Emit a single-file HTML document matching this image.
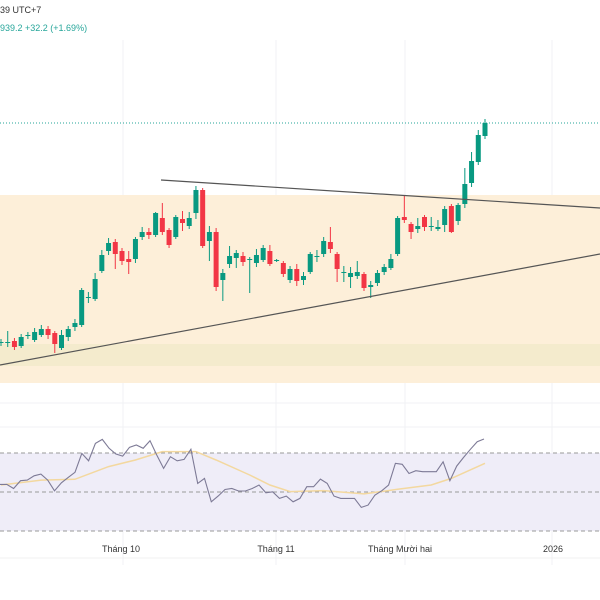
<!DOCTYPE html>
<html><head><meta charset="utf-8"><style>
body{margin:0;background:#fff;font-family:"Liberation Sans","Noto Sans CJK SC",sans-serif}
svg{display:block}
</style></head><body>
<svg id="c" width="600" height="600">
<g stroke="#f1f2f4" stroke-width="1">
<line x1="123" y1="40" x2="123" y2="565"/><line x1="276" y1="40" x2="276" y2="565"/><line x1="405" y1="40" x2="405" y2="565"/><line x1="552" y1="40" x2="552" y2="565"/>
<line x1="0" y1="403" x2="600" y2="403"/><line x1="0" y1="427" x2="600" y2="427"/>
</g>
<rect x="0" y="195" width="600" height="188" fill="#fdefd9"/>
<rect x="0" y="344" width="600" height="22" fill="#f4ebcd"/>
<line x1="0" y1="123" x2="600" y2="123" stroke="#26a69a" stroke-dasharray="1,2"/>
<g id="candles"></g>
<line x1="161" y1="180" x2="600" y2="208" stroke="#555" stroke-width="1.2"/>
<line x1="0" y1="365" x2="600" y2="254" stroke="#555" stroke-width="1.2"/>
<rect x="0" y="453" width="600" height="78" fill="#efedf8"/>
<g stroke="#9a9a9a" stroke-dasharray="4,3">
<line x1="0" y1="453" x2="600" y2="453"/><line x1="0" y1="492" x2="600" y2="492"/><line x1="0" y1="531" x2="600" y2="531"/></g>
<path id="ma" fill="none" stroke="#f3d89f" stroke-width="1.5"/>
<path id="rsi" fill="none" stroke="#7d7a96" stroke-width="1.1"/>
<line x1="0" y1="558" x2="600" y2="558" stroke="#f0f0f0"/>
<g font-size="9" fill="#333" text-anchor="middle">
<text x="121" y="552">Tháng 10</text>
<text x="276" y="552">Tháng 11</text>
<text x="400" y="552">Tháng Mười hai</text>
<text x="553" y="552">2026</text>
</g>
<text x="0" y="13" font-size="9" fill="#333">39 UTC+7</text>
<text x="0" y="31" font-size="9" fill="#26a69a">939.2  +32.2 (+1.69%)</text>
</svg>
<script>
const opens=[1718,1718,1720,1715,1725,1721,1726,1732,1728,1713,1724,1734,1736,1763,1762,1790,1810,1819,1810,1802,1802,1824,1829,1826,1843,1831,1824,1842,1835,1848,1871,1820,1829,1781,1797,1803,1805,1801,1798,1801,1810,1800,1798,1781,1792,1781,1789,1804,1807,1819,1807,1788,1784,1785,1787,1774,1778,1789,1793,1807,1844,1837,1832,1844,1834,1832,1836,1855,1840,1857,1878,1899,1925];
const closes=[1719,1719,1714,1724,1726,1729,1732,1726,1717,1726,1732,1738,1771,1764,1782,1806,1818,1807,1800,1799,1822,1829,1826,1848,1829,1816,1844,1838,1843,1871,1815,1829,1774,1788,1805,1808,1799,1802,1806,1813,1797,1801,1787,1792,1780,1785,1807,1805,1820,1812,1792,1789,1788,1789,1773,1776,1788,1794,1802,1843,1841,1829,1835,1834,1835,1834,1852,1829,1856,1877,1900,1926,1938];
const highs=[1722,1730,1723,1727,1729,1733,1736,1735,1730,1731,1735,1742,1773,1769,1788,1811,1823,1822,1813,1810,1824,1834,1833,1849,1858,1833,1846,1850,1849,1875,1873,1835,1833,1792,1815,1811,1809,1804,1812,1816,1816,1802,1800,1795,1797,1789,1809,1811,1824,1834,1809,1795,1794,1800,1789,1780,1791,1797,1807,1845,1865,1839,1843,1846,1844,1841,1855,1857,1858,1893,1909,1931,1942];
const lows=[1715,1714,1711,1713,1722,1719,1724,1722,1708,1711,1720,1730,1734,1758,1760,1788,1806,1792,1796,1787,1798,1821,1822,1824,1826,1813,1822,1830,1832,1842,1813,1800,1770,1760,1793,1793,1795,1768,1794,1799,1795,1799,1784,1778,1775,1776,1787,1799,1804,1808,1779,1779,1773,1782,1770,1763,1775,1786,1791,1805,1838,1822,1828,1830,1830,1830,1829,1828,1836,1853,1874,1896,1922];
const rsiValues=[53.9,53.9,51.8,55.8,56.1,58.3,59.2,56.1,50.6,54.7,57.5,60.1,69.8,66.0,74.9,77.0,72.4,69.5,68.4,72.9,74.1,72.4,76.3,68.9,62.1,68.1,66.0,66.7,71.9,54.4,57.0,45.0,47.9,51.3,51.8,50.5,50.5,51.8,53.6,49.6,50.1,46.7,47.9,45.0,46.7,52.7,52.7,56.6,54.4,47.9,46.7,46.7,46.7,42.1,43.3,48.4,50.6,53.6,64.7,64.2,59.5,60.9,60.4,60.4,60.4,65.5,55.8,63.3,67.7,71.9,75.8,77.2];
const maIndex=[0,6,11,16,20,24,29,32,37,40,43,48,54,59,64,67,72];
const maValues=[53.6,56.1,56.5,63.0,66.4,70.7,70.7,66.4,58.7,53.6,50.2,50.7,49.0,51.4,53.6,57.0,64.7];
const N=opens.length;
const xOf=i=>1+484*i/(N-1);
const yOf=p=>2061-p;
const rsiY=v=>453+(70-v)*78/40;
const g=document.getElementById('candles');
const ns='http://www.w3.org/2000/svg';
for(let i=0;i<N;i++){
 const up=closes[i]>=opens[i],col=up?'#089981':'#f23645',x=xOf(i);
 const w=document.createElementNS(ns,'line');
 w.setAttribute('x1',x);w.setAttribute('x2',x);w.setAttribute('y1',yOf(highs[i]));w.setAttribute('y2',yOf(lows[i]));w.setAttribute('stroke',col);
 
 
 g.appendChild(w);
 const r=document.createElementNS(ns,'rect');
 const t=yOf(Math.max(opens[i],closes[i])),b=yOf(Math.min(opens[i],closes[i]));
 r.setAttribute('x',x-2.5);r.setAttribute('width',5);r.setAttribute('y',t);r.setAttribute('height',Math.max(1,b-t));r.setAttribute('fill',col);
 
 
 g.appendChild(r);
}
const rn=rsiValues.length;
document.getElementById('rsi').setAttribute('d',rsiValues.map((v,i)=>(i?'L':'M')+(484*i/(rn-1)).toFixed(1)+','+rsiY(v).toFixed(1)).join(''));
document.getElementById('ma').setAttribute('d',maValues.map((v,i)=>(i?'L':'M')+xOf(maIndex[i]).toFixed(1)+','+rsiY(v).toFixed(1)).join(''));
</script>
</body></html>
